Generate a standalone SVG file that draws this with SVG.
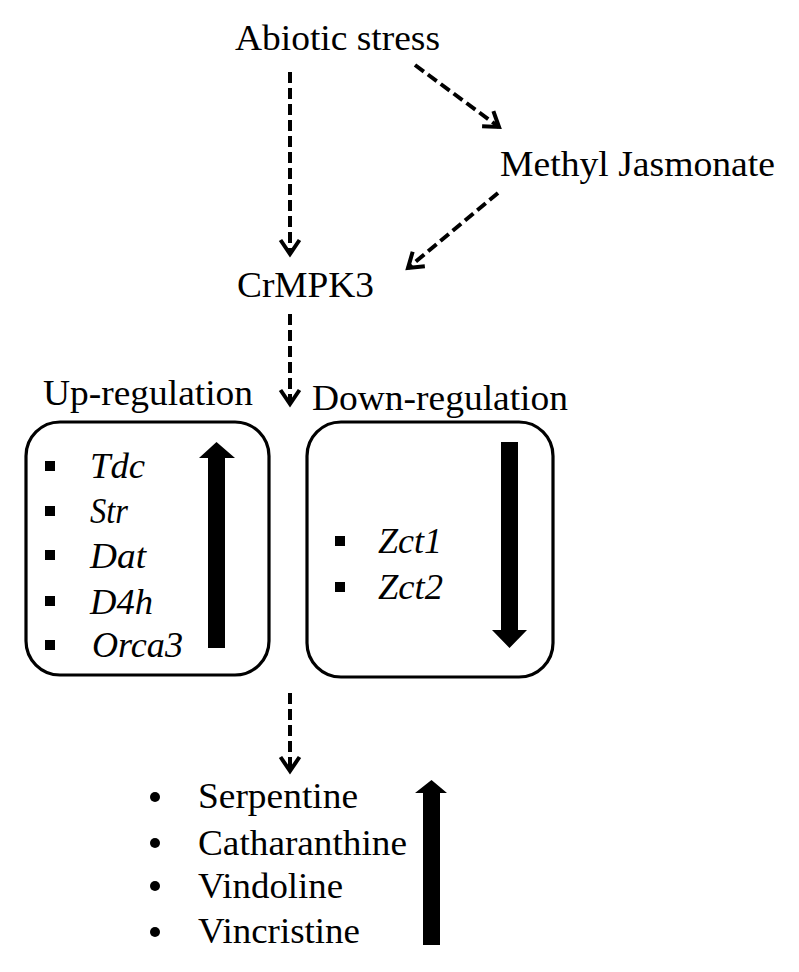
<svg xmlns="http://www.w3.org/2000/svg" width="799" height="972" viewBox="0 0 799 972">
<style>
text{font-family:"Liberation Serif","Times New Roman",Times,serif;fill:#000}
.t{font-size:36px}
.i{font-size:36px;font-style:italic}
.dash{fill:none;stroke:#000;stroke-width:4;stroke-dasharray:11 5}
.box{fill:#fff;stroke:#000;stroke-width:3.2}
.sq{fill:#000}
</style>
<defs>
<marker id="open" markerUnits="userSpaceOnUse" viewBox="-18 -12 22 24" markerWidth="22" markerHeight="24" refX="0" refY="0" orient="auto">
<path d="M-14,-9.5 L0,0 L-14,9.5" fill="none" stroke="#000" stroke-width="4"/>
</marker>
</defs>
<g id="connectors">
<line class="dash" x1="290" y1="72" x2="290" y2="254" marker-end="url(#open)"/>
<line class="dash" x1="415" y1="65" x2="499" y2="127" marker-end="url(#open)"/>
<line class="dash" x1="498" y1="193" x2="408" y2="268" marker-end="url(#open)"/>
<line class="dash" x1="290" y1="314" x2="290" y2="404" marker-end="url(#open)"/>
<line class="dash" x1="290" y1="693" x2="290" y2="771" marker-end="url(#open)"/>
</g>
<g id="abiotic"><text class="t" x="235" y="50" textLength="205" lengthAdjust="spacingAndGlyphs">Abiotic stress</text></g>
<g id="mj"><text class="t" x="500" y="176" textLength="275" lengthAdjust="spacingAndGlyphs">Methyl Jasmonate</text></g>
<g id="crmpk3"><text class="t" x="237" y="297" textLength="137" lengthAdjust="spacingAndGlyphs">CrMPK3</text></g>
<g id="up">
<text class="t" x="43" y="405" textLength="210" lengthAdjust="spacingAndGlyphs">Up-regulation</text>
<rect class="box" x="26" y="422" width="243" height="253" rx="34" ry="34"/>
<rect class="sq" x="45" y="461" width="10" height="10"/>
<rect class="sq" x="45" y="506" width="10" height="10"/>
<rect class="sq" x="45" y="550" width="10" height="10"/>
<rect class="sq" x="45" y="596" width="10" height="10"/>
<rect class="sq" x="45" y="640" width="10" height="10"/>
<text class="i" x="90" y="478" textLength="55" lengthAdjust="spacingAndGlyphs">Tdc</text>
<text class="i" x="90" y="523" textLength="38" lengthAdjust="spacingAndGlyphs">Str</text>
<text class="i" x="90" y="568" textLength="56" lengthAdjust="spacingAndGlyphs">Dat</text>
<text class="i" x="90" y="614" textLength="63" lengthAdjust="spacingAndGlyphs">D4h</text>
<text class="i" x="92" y="657" textLength="91" lengthAdjust="spacingAndGlyphs">Orca3</text>
<polygon points="208,648 225,648 225,458 235,458 216.5,442 199,458 208,458"/>
</g>
<g id="down">
<text class="t" x="312" y="410" textLength="256" lengthAdjust="spacingAndGlyphs">Down-regulation</text>
<rect class="box" x="307" y="422" width="246" height="255" rx="34" ry="34"/>
<rect class="sq" x="335" y="536" width="10" height="10"/>
<rect class="sq" x="335" y="582" width="10" height="10"/>
<text class="i" x="378" y="553" textLength="64" lengthAdjust="spacingAndGlyphs">Zct1</text>
<text class="i" x="378" y="599" textLength="65" lengthAdjust="spacingAndGlyphs">Zct2</text>
<polygon points="501,442 518,442 518,630 527,630 509.5,648 492,630 501,630"/>
</g>
<g id="alkaloids">
<circle cx="155" cy="797" r="5"/>
<circle cx="155" cy="843" r="5"/>
<circle cx="155" cy="886" r="5"/>
<circle cx="155" cy="932" r="5"/>
<text class="t" x="198" y="808" textLength="160" lengthAdjust="spacingAndGlyphs">Serpentine</text>
<text class="t" x="198" y="855" textLength="209" lengthAdjust="spacingAndGlyphs">Catharanthine</text>
<text class="t" x="198" y="898" textLength="145" lengthAdjust="spacingAndGlyphs">Vindoline</text>
<text class="t" x="198" y="943" textLength="162" lengthAdjust="spacingAndGlyphs">Vincristine</text>
<polygon points="423,945 440,945 440,793 447,793 431.5,780 415,793 423,793"/>
</g>
</svg>
